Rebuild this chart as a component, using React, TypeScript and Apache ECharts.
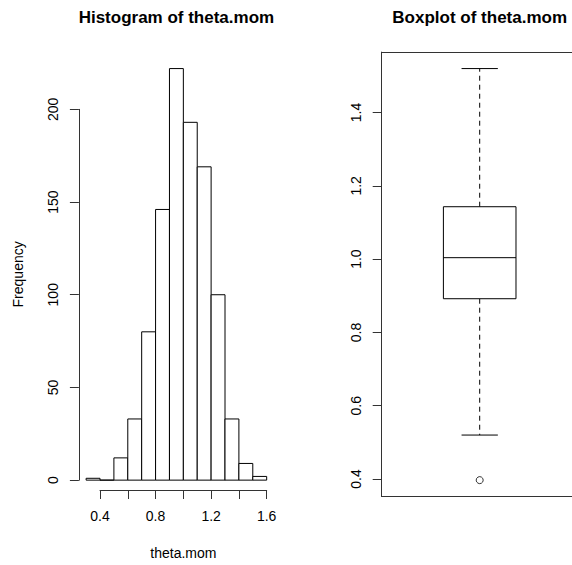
import React, { useEffect, useRef } from "react";
import * as echarts from "echarts";

// ---- data ----
const breaks = [0.3, 0.4, 0.5, 0.6, 0.7, 0.8, 0.9, 1.0, 1.1, 1.2, 1.3, 1.4, 1.5, 1.6];
const counts = [1, 0, 12, 33, 80, 146, 222, 193, 169, 100, 33, 9, 2];
const histXTicks = [0.4, 0.6, 0.8, 1.0, 1.2, 1.4, 1.6];
const histXLabels = ["0.4", "", "0.8", "", "1.2", "", "1.6"];
const histYTicks = [0, 50, 100, 150, 200];
// min whisker, Q1, median, Q3, max whisker
const boxStats = [0.52, 0.892, 1.004, 1.143, 1.52];
const boxOutliers = [0.397];
const boxYTicks = [0.4, 0.6, 0.8, 1.0, 1.2, 1.4];

const FONT = "'Liberation Sans', Arial, Helvetica, sans-serif";
const INK = "#000";
const AXIS = "#333";

const W = 572;
// ---- layout (plot regions in px) ----
const P1 = { left: 78.9, right: 273.9, top: 52.1, bottom: 496.6 };
const P2 = { left: 381.7, right: 577.7, top: 52.1, bottom: 496.6 };

const lerp = (v: number, d0: number, d1: number, p0: number, p1: number) =>
  p0 + ((v - d0) / (d1 - d0)) * (p1 - p0);

export default function App() {
  const ref = useRef<HTMLDivElement>(null);

  useEffect(() => {
    if (!ref.current) return;
    const chart = echarts.init(ref.current, undefined, { renderer: "svg" });

    // histogram limits (R style: 4% extension)
    const bMin = breaks[0];
    const bMax = breaks[breaks.length - 1];
    const cMax = Math.max(...counts);
    const hx0 = bMin - 0.04 * (bMax - bMin);
    const hx1 = bMax + 0.04 * (bMax - bMin);
    const hy0 = -0.04 * cMax;
    const hy1 = cMax * 1.04;

    // boxplot limits
    const allVals = [...boxStats, ...boxOutliers];
    const vMin = Math.min(...allVals);
    const vMax = Math.max(...allVals);
    const by0 = vMin - 0.04 * (vMax - vMin);
    const by1 = vMax + 0.04 * (vMax - vMin);
    const bx0 = 0.46;
    const bx1Full = 1.54;
    // visible part of the box plot region is clipped by the page edge
    const bx1 = lerp(W, P2.left, P2.right, bx0, bx1Full);

    // axis-only grid positions
    const hxA0 = lerp(histXTicks[0], hx0, hx1, P1.left, P1.right);
    const hxA1 = lerp(histXTicks[histXTicks.length - 1], hx0, hx1, P1.left, P1.right);
    const hyA0 = lerp(histYTicks[histYTicks.length - 1], hy1, hy0, P1.top, P1.bottom);
    const hyA1 = lerp(histYTicks[0], hy1, hy0, P1.top, P1.bottom);
    const byA0 = lerp(boxYTicks[boxYTicks.length - 1], by1, by0, P2.top, P2.bottom);
    const byA1 = lerp(boxYTicks[0], by1, by0, P2.top, P2.bottom);

    const axisLineStyle = { color: AXIS, width: 1 };
    const labelStyle = { fontSize: 14, color: INK, fontFamily: FONT };
    const frameAxis = {
      axisLine: { show: true, lineStyle: axisLineStyle },
      axisTick: { show: false },
      axisLabel: { show: false },
      splitLine: { show: false },
    };

    const histData = counts.map((c, i) => [breaks[i], breaks[i + 1], c]);
    const boxData = [[1, ...boxStats]];

    chart.setOption({
      animation: false,
      backgroundColor: "#fff",
      graphic: [
        {
          type: "text",
          x: (P1.left + P1.right) / 2,
          y: 17,
          style: {
            text: "Histogram of theta.mom",
            textAlign: "center",
            textVerticalAlign: "middle",
            font: `bold 17px ${FONT}`,
            fill: INK,
          },
        },
        {
          type: "text",
          x: (P2.left + P2.right) / 2,
          y: 17,
          style: {
            text: "Boxplot of theta.mom",
            textAlign: "center",
            textVerticalAlign: "middle",
            font: `bold 17px ${FONT}`,
            fill: INK,
          },
        },
      ],
      grid: [
        { left: P1.left, top: P1.top, width: P1.right - P1.left, height: P1.bottom - P1.top },
        { left: hxA0, top: P1.top, width: hxA1 - hxA0, height: P1.bottom - P1.top },
        { left: P1.left, top: hyA0, width: P1.right - P1.left, height: hyA1 - hyA0 },
        { left: P2.left, top: P2.top, right: 0, height: P2.bottom - P2.top },
        { left: P2.left, top: byA0, right: 0, height: byA1 - byA0 },
      ],
      xAxis: [
        { gridIndex: 0, type: "value", min: hx0, max: hx1, show: false },
        {
          gridIndex: 1,
          type: "value",
          min: histXTicks[0],
          max: histXTicks[histXTicks.length - 1],
          interval: histXTicks[1] - histXTicks[0],
          position: "bottom",
          axisLine: { show: true, lineStyle: axisLineStyle },
          axisTick: { show: true, length: 9, lineStyle: axisLineStyle },
          axisLabel: {
            ...labelStyle,
            margin: 19,
            formatter: (v: number) => {
              const i = histXTicks.findIndex((t) => Math.abs(t - v) < 1e-6);
              return i >= 0 ? histXLabels[i] : "";
            },
          },
          splitLine: { show: false },
          name: "theta.mom",
          nameLocation: "middle",
          nameGap: 56,
          nameTextStyle: { ...labelStyle, verticalAlign: "top" },
        },
        { gridIndex: 2, type: "value", min: 0, max: 1, show: false },
        { gridIndex: 3, type: "value", min: bx0, max: bx1, position: "bottom", ...frameAxis },
        { gridIndex: 3, type: "value", min: bx0, max: bx1, position: "top", ...frameAxis },
        { gridIndex: 4, type: "value", min: 0, max: 1, show: false },
      ],
      yAxis: [
        {
          gridIndex: 0,
          type: "value",
          min: hy0,
          max: hy1,
          axisLine: { show: false },
          axisTick: { show: false },
          axisLabel: { show: false },
          splitLine: { show: false },
          name: "Frequency",
          nameLocation: "middle",
          nameGap: 54,
          nameTextStyle: { ...labelStyle },
        },
        { gridIndex: 1, type: "value", min: 0, max: 1, show: false },
        {
          gridIndex: 2,
          type: "value",
          min: histYTicks[0],
          max: histYTicks[histYTicks.length - 1],
          interval: histYTicks[1] - histYTicks[0],
          axisLine: { show: true, lineStyle: axisLineStyle },
          axisTick: { show: true, length: 9, lineStyle: axisLineStyle },
          axisLabel: { ...labelStyle, rotate: 90, margin: 19 },
          splitLine: { show: false },
        },
        { gridIndex: 3, type: "value", min: by0, max: by1, position: "left", ...frameAxis },
        {
          gridIndex: 4,
          type: "value",
          min: boxYTicks[0],
          max: boxYTicks[boxYTicks.length - 1],
          interval: 0.2,
          axisLine: { show: true, lineStyle: axisLineStyle },
          axisTick: { show: true, length: 9, lineStyle: axisLineStyle },
          axisLabel: { ...labelStyle, rotate: 90, margin: 19, formatter: (v: number) => v.toFixed(1) },
          splitLine: { show: false },
        },
      ],
      series: [
        {
          type: "custom",
          xAxisIndex: 0,
          yAxisIndex: 0,
          data: histData,
          renderItem: (params: any, api: any) => {
            const p0 = api.coord([api.value(0), api.value(2)]);
            const p1 = api.coord([api.value(1), 0]);
            return {
              type: "rect",
              shape: { x: p0[0], y: p0[1], width: p1[0] - p0[0], height: p1[1] - p0[1] },
              style: { fill: "#fff", stroke: INK, lineWidth: 1 },
            };
          },
        },
        {
          type: "custom",
          xAxisIndex: 3,
          yAxisIndex: 3,
          data: boxData,
          renderItem: (params: any, api: any) => {
            const x = api.value(0);
            const lo = api.value(1);
            const q1 = api.value(2);
            const med = api.value(3);
            const q3 = api.value(4);
            const hi = api.value(5);
            const hb = 0.2;
            const hc = 0.1;
            const c = (a: number, b: number) => api.coord([a, b]);
            const line = (a: number[], b: number[], dash?: number[]) => ({
              type: "line",
              shape: { x1: a[0], y1: a[1], x2: b[0], y2: b[1] },
              style: { stroke: INK, lineWidth: 1, lineDash: dash },
            });
            const tl = c(x - hb, q3);
            const br = c(x + hb, q1);
            return {
              type: "group",
              children: [
                line(c(x, q3), c(x, hi), [5, 4]),
                line(c(x, q1), c(x, lo), [5, 4]),
                line(c(x - hc, hi), c(x + hc, hi)),
                line(c(x - hc, lo), c(x + hc, lo)),
                {
                  type: "rect",
                  shape: { x: tl[0], y: tl[1], width: br[0] - tl[0], height: br[1] - tl[1] },
                  style: { fill: "#fff", stroke: INK, lineWidth: 1 },
                },
                line(c(x - hb, med), c(x + hb, med)),
              ],
            };
          },
        },
        {
          type: "scatter",
          xAxisIndex: 3,
          yAxisIndex: 3,
          data: boxOutliers.map((v) => [1, v]),
          symbol: "circle",
          symbolSize: 7,
          itemStyle: { color: "#fff", borderColor: INK, borderWidth: 1 },
        },
      ],
    });

    return () => chart.dispose();
  }, []);

  return (
    <div
      ref={ref}
      style={{ position: "fixed", left: 0, top: 0, width: W, height: 565, background: "#fff" }}
    />
  );
}
